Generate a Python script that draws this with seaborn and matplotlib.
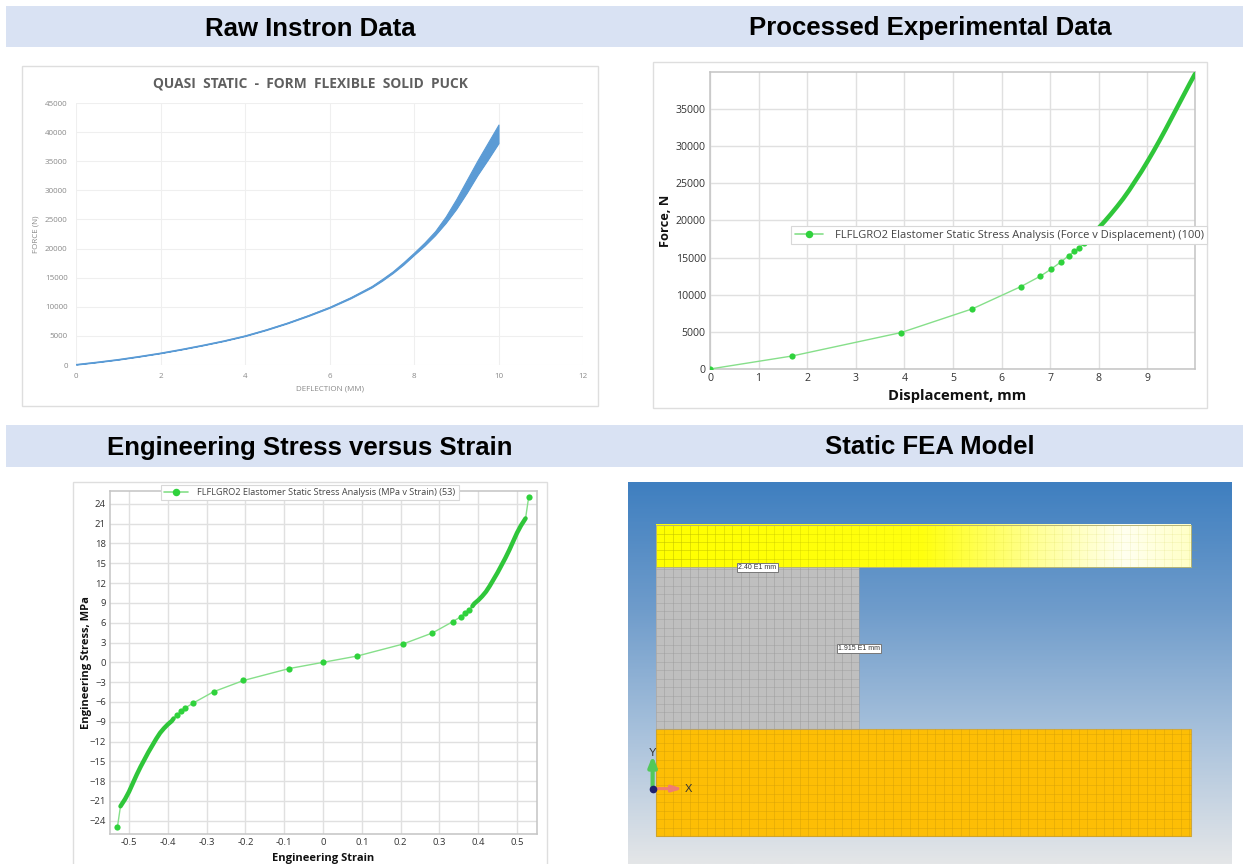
import numpy as np
import matplotlib
matplotlib.use("Agg")
import matplotlib.pyplot as plt
import seaborn as sns
from matplotlib.colors import LinearSegmentedColormap
from matplotlib.lines import Line2D
from matplotlib.patches import Rectangle

# raw instron data
raw_x = [0, 0.5, 1, 1.5, 2, 2.5, 3, 3.5, 4, 4.5, 5, 5.5, 6, 6.5, 7, 7.25, 7.5, 7.75, 8,
         8.25, 8.5, 8.75, 9, 9.25, 9.5, 9.75, 10]
raw_upper = [120, 530, 980, 1510, 2080, 2730, 3430, 4190, 5050, 6100, 7260, 8570, 9980, 11650, 13570, 14800,
             16100, 17650, 19300, 21050, 23000, 25500, 28500, 31800, 35100, 38200, 41300]
raw_lower = [60, 470, 920, 1450, 2020, 2670, 3370, 4120, 4970, 6000, 7150, 8430, 9820, 11450, 13330, 14500,
             15800, 17250, 18900, 20500, 22300, 24400, 26800, 29600, 32600, 35300, 38100]
raw_ticks_x = [0, 2, 4, 6, 8, 10, 12]
raw_ticks_y = [0, 5000, 10000, 15000, 20000, 25000, 30000, 35000, 40000, 45000]

# processed force v displacement
proc_x = [0, 1.69, 3.93, 5.4, 6.4, 6.8, 7.02, 7.23, 7.38, 7.5, 7.6, 7.7]
proc_y = [0, 1750, 4900, 8100, 11100, 12500, 13450, 14450, 15250, 15850, 16350, 16900]
proc_dense_x = [7.7, 7.85, 8, 8.125, 8.25, 8.375, 8.5, 8.625, 8.75, 8.875, 9, 9.125, 9.25, 9.375,
                9.5, 9.625, 9.75, 9.875, 9.98]
proc_dense_y = [16900, 17900, 19000, 19900, 20850, 21850, 22900, 24050, 25300, 26550, 27900, 29300, 30750, 32250,
                33800, 35350, 36900, 38450, 39700]
proc_ticks_x = [0, 1, 2, 3, 4, 5, 6, 7, 8, 9]
proc_ticks_y = [0, 5000, 10000, 15000, 20000, 25000, 30000, 35000]

# stress v strain
dense_neg_x = [-0.522, -0.51, -0.5, -0.49, -0.48, -0.47, -0.46, -0.45, -0.44, -0.43, -0.42, -0.41, -0.4, -0.39, -0.385]
dense_neg_y = [-21.8, -20.7, -19.6, -18.3, -17.0, -15.8, -14.7, -13.6, -12.6, -11.6, -10.7, -10.0, -9.4, -8.9, -8.5]
dense_pos_x = [0.385, 0.39, 0.4, 0.41, 0.42, 0.43, 0.44, 0.45, 0.46, 0.47, 0.48, 0.49, 0.5, 0.51, 0.522]
dense_pos_y = [8.5, 8.9, 9.4, 10.0, 10.7, 11.6, 12.6, 13.6, 14.7, 15.8, 17.0, 18.3, 19.6, 20.7, 21.8]
mid_x = [-0.377, -0.366, -0.355, -0.334, -0.282, -0.205, -0.088, 0,
         0.088, 0.205, 0.282, 0.334, 0.355, 0.366, 0.377]
mid_y = [-8.0, -7.4, -6.9, -6.15, -4.45, -2.75, -0.95, 0,
         0.95, 2.75, 4.45, 6.15, 6.9, 7.4, 8.0]
end_x = [-0.53, 0.53]
end_y = [-25, 25]
ss_ticks_x = [-0.5, -0.4, -0.3, -0.2, -0.1, 0, 0.1, 0.2, 0.3, 0.4, 0.5]
ss_labels_x = ["-0.5", "-0.4", "-0.3", "-0.2", "-0.1", "0", "0.1", "0.2", "0.3", "0.4", "0.5"]
ss_ticks_y = [-24, -21, -18, -15, -12, -9, -6, -3, 0, 3, 6, 9, 12, 15, 18, 21, 24]

# FEA model, mm
plate_w = 63.2
plate_h = 5.0
puck_w = 24.0
puck_h = 19.15
base_h = 12.6
headers = ["Raw Instron Data", "Processed Experimental Data", "Engineering Stress versus Strain", "Static FEA Model"]

W, H = 1243, 864
GREEN = "#2fd23c"
GREEN_LIGHT = "#86df8a"
THICK = "#2fc63a"

sns.set_theme(style="white")
plt.rcParams["font.family"] = ["Open Sans", "DejaVu Sans"]
fig = plt.figure(figsize=(W / 100, H / 100), dpi=100, facecolor="white")


def px_axes(x0, y0, x1, y1, **kw):
    return fig.add_axes([x0 / W, 1 - y1 / H, (x1 - x0) / W, (y1 - y0) / H], **kw)


# page layer in pixels: header bands and picture frames
page = px_axes(0, 0, W, H)
page.set_xlim(0, W)
page.set_ylim(H, 0)
page.axis("off")
for top, bottom in [(6, 47), (425, 467)]:
    page.add_patch(Rectangle((6, top), W - 6, bottom - top, fc="#d9e2f3", ec="none"))
for x0, y0, x1, y1 in [(22, 66, 598, 406), (653, 62, 1207, 408), (73, 482, 547, 870)]:
    page.add_patch(Rectangle((x0, y0), x1 - x0, y1 - y0, fc="white", ec="#dedede", lw=1))
for txt, cx, cy in zip(headers, [310, 930, 310, 930], [28, 28, 447, 447]):
    page.text(cx, cy + 0.5, txt, ha="center", va="center", fontsize=18.5, fontweight="bold",
              family="Liberation Sans", color="black")
page.text(310, 83, "QUASI  STATIC  -  FORM  FLEXIBLE  SOLID  PUCK", ha="center", va="center", fontsize=9.9,
          fontweight="bold", color="#5f5f5f")

# raw data
ax = px_axes(76, 103, 583, 365)
ax.fill_between(raw_x, raw_lower, raw_upper, color="#5b9bd5", lw=0.8, zorder=3)
ax.set_xlim(0, 12)
ax.set_ylim(0, 45000)
ax.set_xticks(raw_ticks_x)
ax.set_yticks(raw_ticks_y)
ax.grid(True, color="#efefef", lw=0.8)
sns.lineplot(x=raw_x, y=raw_lower, ax=ax, color="#5b9bd5", lw=1, zorder=3)
sns.despine(ax=ax, left=True, bottom=True, right=True, top=True)
ax.tick_params(length=0, labelsize=5.8, labelcolor="#8a8a8a", pad=6)
ax.set_xlabel("DEFLECTION (MM)", fontsize=5.8, color="#8a8a8a", labelpad=4)
ax.set_ylabel("FORCE (N)", fontsize=5.8, color="#8a8a8a", labelpad=4)


def style_green(ax):
    ax.grid(True, color="#e0e0e0", lw=1)
    ax.set_axisbelow(True)
    for s in ax.spines.values():
        s.set_visible(True)
        s.set_color("#c4c4c4")
        s.set_linewidth(1.1)
    ax.tick_params(length=0, labelsize=7.6, labelcolor="#333333", pad=3)


def style_legend(ax, label, anchor, fontsize):
    handle = Line2D([], [], color=GREEN_LIGHT, lw=1.2, marker="o", ms=5.4, mfc=GREEN, mec=GREEN, mew=0)
    leg = ax.legend(handles=[handle], labels=[label], loc="center", bbox_to_anchor=anchor, fontsize=fontsize,
                    frameon=True, fancybox=False, framealpha=1, edgecolor="#d8d8d8", handlelength=2.6,
                    handletextpad=1.0, borderpad=0.35, labelcolor="#444444")
    leg.get_frame().set_linewidth(0.8)
    leg.set_zorder(6)


def green_curve(ax, line_x, line_y, mark_x, mark_y):
    sns.lineplot(x=line_x, y=line_y, ax=ax, sort=False, color=GREEN_LIGHT, lw=1, zorder=3)
    sns.scatterplot(x=mark_x, y=mark_y, ax=ax, color=GREEN, s=20, linewidth=0, zorder=4)


# processed data
ax = px_axes(710, 72, 1195, 369)
green_curve(ax, proc_x, proc_y, proc_x, proc_y)
sns.lineplot(x=proc_dense_x, y=proc_dense_y, ax=ax, sort=False, color=THICK, lw=3.2, zorder=3)
ax.set_xlim(0, 9.98)
ax.set_ylim(0, 39970)
ax.set_xticks(proc_ticks_x)
ax.set_yticks(proc_ticks_y)
style_green(ax)
ax.set_xlabel("Displacement, mm", fontsize=10.6, fontweight="bold", color="#111111", labelpad=3)
ax.set_ylabel("Force, N", fontsize=9.2, fontweight="bold", color="#111111", labelpad=3)
ax.xaxis.set_label_coords(0.51, -0.068)
style_legend(ax, "FLFLGRO2 Elastomer Static Stress Analysis (Force v Displacement) (100)", (0.596, 0.451), 8)

# stress strain
ax = px_axes(110, 491, 537, 834)
strain = [end_x[0]] + dense_neg_x + mid_x + dense_pos_x + [end_x[1]]
stress = [end_y[0]] + dense_neg_y + mid_y + dense_pos_y + [end_y[1]]
green_curve(ax, strain, stress, end_x + mid_x, end_y + mid_y)
sns.lineplot(x=dense_neg_x, y=dense_neg_y, ax=ax, sort=False, color=THICK, lw=3.2, zorder=3)
sns.lineplot(x=dense_pos_x, y=dense_pos_y, ax=ax, sort=False, color=THICK, lw=3.2, zorder=3)
ax.set_xlim(-0.549, 0.5515)
ax.set_ylim(-26, 25.95)
ax.set_xticks(ss_ticks_x, ss_labels_x)
ax.set_yticks(ss_ticks_y)
style_green(ax)
ax.tick_params(labelsize=6.8)
ax.set_xlabel("Engineering Strain", fontsize=8, fontweight="bold", color="#111111", labelpad=4)
ax.set_ylabel("Engineering Stress, MPa", fontsize=8, fontweight="bold", color="#111111", labelpad=-2)
style_legend(ax, "FLFLGRO2 Elastomer Static Stress Analysis (MPa v Strain) (53)", (0.468, 0.9956), 6.6)

# FEA model panel, data in mm at 8.46 px per mm
scale = 8.46
ax = px_axes(628, 482, 1232, 864)
ax.axis("off")
sky = LinearSegmentedColormap.from_list("sky", ["#e4e6e8", "#a9c2dc", "#6f9ccb", "#3f7fc0"])
ax.imshow(np.linspace(0, 1, 200).reshape(-1, 1), cmap=sky, aspect="auto", origin="lower",
          extent=[-28 / scale, 576 / scale, -28 / scale, 354 / scale], zorder=0)
base_top = base_h
puck_top = base_top + puck_h
plate_top = puck_top + plate_h

fade = LinearSegmentedColormap.from_list(
    "fade", [(0, "#ffff00"), (0.5, "#ffff10"), (0.72, "#ffff9a"), (0.88, "#fffff0"), (1, "#ffffc8")])
ax.imshow(np.linspace(0, 1, 300).reshape(1, -1), cmap=fade, aspect="auto",
          extent=[0, plate_w, puck_top, plate_top], zorder=1)
ax.add_patch(Rectangle((0, base_top), puck_w, puck_h, fc="#bfbfbf", ec="none", zorder=1))
ax.add_patch(Rectangle((0, 0), plate_w, base_h, fc="#fdbe05", ec="#cfa83f", lw=0.8, zorder=1))
ax.set_xlim(-28 / scale, 576 / scale)
ax.set_ylim(-28 / scale, 354 / scale)

# mesh lines, 1 mm cells
ax.vlines(np.arange(0, plate_w, 1), 0, base_h, color="#d29e08", lw=0.6, alpha=0.5, zorder=2)
ax.hlines(np.arange(0, base_h, 1), 0, plate_w, color="#d29e08", lw=0.6, alpha=0.45, zorder=2)
ax.vlines(np.arange(0, puck_w + 0.5, 1), base_top, puck_top, color="#9c9c9c", lw=0.6, alpha=0.6, zorder=2)
ax.hlines(np.arange(base_top, puck_top, 1), 0, puck_w, color="#9c9c9c", lw=0.6, alpha=0.5, zorder=2)
for xv in np.arange(0, plate_w, 1):
    alpha = max(0.1, 0.55 - xv / 70)
    ax.vlines(xv, puck_top, plate_top, color="#b8b800", lw=0.6, alpha=alpha, zorder=2)
    for yv in np.arange(puck_top, plate_top, 1):
        ax.hlines(yv, xv, xv + 1, color="#b8b800", lw=0.6, alpha=alpha, zorder=2)
ax.plot([0, plate_w, plate_w, 0, 0], [puck_top, puck_top, plate_top, plate_top, puck_top],
        color="#b4b478", lw=0.7, zorder=3)

box = dict(fc="white", ec="#777777", lw=0.7, boxstyle="square,pad=0.15")
ax.text(puck_w / 2, puck_top - 0.05, "2.40 E1 mm", fontsize=5, family="Liberation Sans", color="#333333",
        ha="center", va="center", bbox=box, zorder=4)
ax.text(puck_w, base_top + puck_h / 2, "1.915 E1 mm", fontsize=5, family="Liberation Sans", color="#333333",
        ha="center", va="center", bbox=box, zorder=4)

# axis triad
ox, oy = -0.4, 5.6
ax.annotate("", xy=(ox, oy + 3.9), xytext=(ox, oy), zorder=5,
            arrowprops=dict(arrowstyle="-|>,head_width=0.2,head_length=0.5", color="#52c85a", lw=3,
                            shrinkA=0, shrinkB=0))
ax.annotate("", xy=(ox + 3.6, oy), xytext=(ox, oy), zorder=5,
            arrowprops=dict(arrowstyle="-|>,head_width=0.15,head_length=0.5", color="#ef7d72", lw=2.2,
                            shrinkA=0, shrinkB=0))
ax.plot(ox, oy, "o", ms=4.5, color="#1f1f6e", zorder=6)
ax.text(ox, oy + 4.2, "Y", fontsize=8, family="Liberation Sans", color="#333333", ha="center", va="center", zorder=6)
ax.text(ox + 4.2, oy, "X", fontsize=8, family="Liberation Sans", color="#333333", ha="center", va="center", zorder=6)

fig.savefig("out.png", dpi=100)
